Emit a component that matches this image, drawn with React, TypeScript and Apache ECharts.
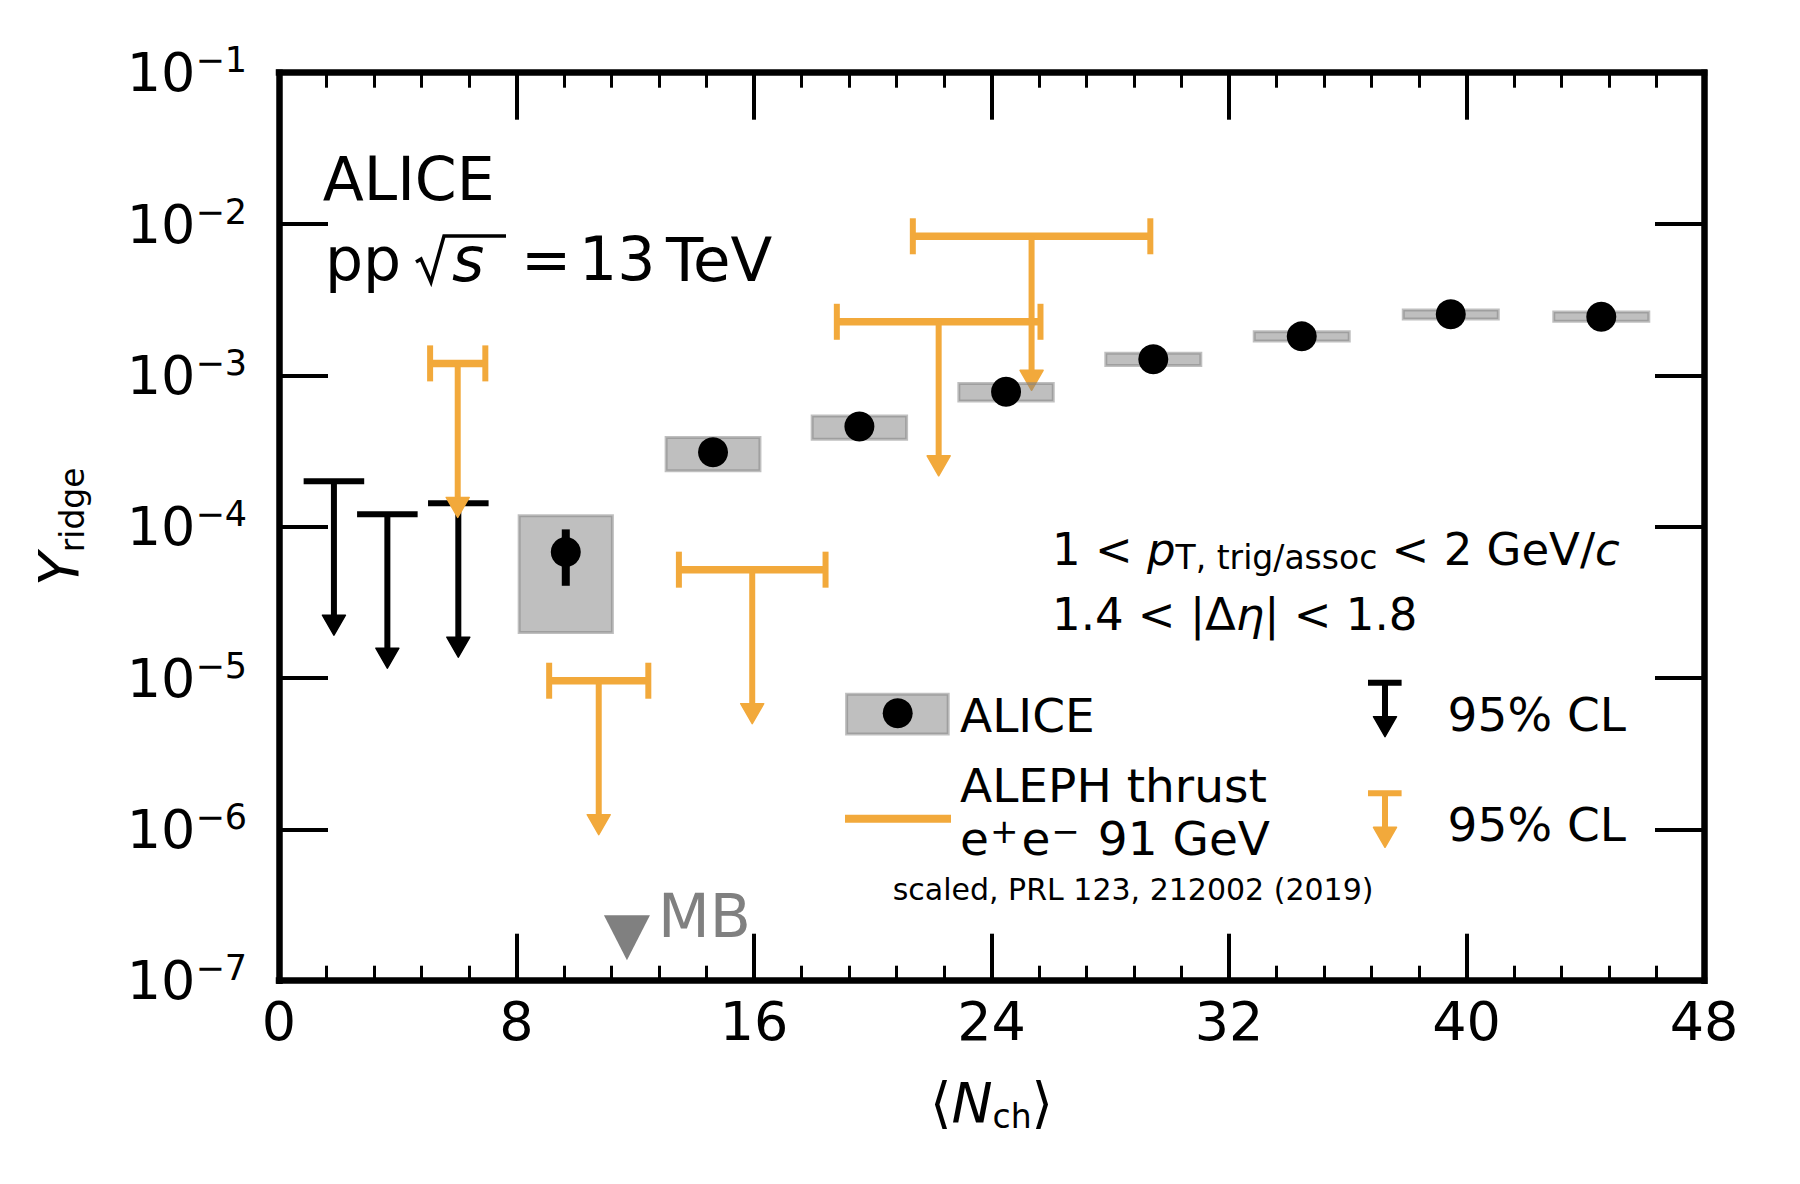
import React, { useEffect, useRef } from 'react';
import * as echarts from 'echarts';

const FONT = 'DejaVu Sans';
const ORANGE = '#F2A93B';
const GRAY = '#808080';
const BOX_FILL = 'rgba(128,128,128,0.5)';

// axis ranges
const X_MIN = 0;
const X_MAX = 48;
const X_STEP = 8;
const Y_MIN = 1e-7;
const Y_MAX = 1e-1;

// ALICE measured points (pp 13 TeV)
const aliceNch = [9.66, 14.62, 19.55, 24.49, 29.45, 34.45, 39.47, 44.54];
const aliceY = [6.8e-5, 3.1e-4, 4.6e-4, 7.8e-4, 1.28e-3, 1.81e-3, 2.53e-3, 2.44e-3];
const aliceStatLow = [4.07e-5, 2.95e-4, 4.45e-4, 7.6e-4, 1.25e-3, 1.78e-3, 2.49e-3, 2.4e-3];
const aliceStatHigh = [9.6e-5, 3.25e-4, 4.75e-4, 8.0e-4, 1.31e-3, 1.84e-3, 2.57e-3, 2.48e-3];
const aliceSysLow = [2.0e-5, 2.34e-4, 3.79e-4, 6.76e-4, 1.16e-3, 1.69e-3, 2.36e-3, 2.28e-3];
const aliceSysHigh = [1.18e-4, 3.89e-4, 5.38e-4, 8.85e-4, 1.4e-3, 1.94e-3, 2.7e-3, 2.62e-3];
const aliceNchHalfWidth = [1.57, 1.58, 1.59, 1.59, 1.6, 1.6, 1.6, 1.6];

// ALICE 95% CL upper limits
const aliceUlNch = [1.85, 3.65, 6.04];
const aliceUlY = [2.0e-4, 1.21e-4, 1.43e-4];
const aliceUlHalfWidth = [1.02, 1.02, 1.02];

// ALEPH thrust e+e- 91 GeV, 95% CL upper limits (scaled)
const alephNch = [6.02, 10.77, 15.94, 22.22, 25.35];
const alephUlY = [1.2e-3, 9.6e-6, 5.2e-5, 2.26e-3, 8.3e-3];
const alephHalfWidth = [0.93, 1.67, 2.47, 3.43, 4.0];

// minimum-bias <Nch> marker
const mbNch = [11.72];
const mbY = [1.92e-7];

const ARROW_LEN = 154;
const HEAD_W = 23;
const HEAD_H = 20;

function arrowParts(cx: number, cy: number, tip: number, color: string, capL: number, capR: number, hLineW: number, endCaps: boolean) {
  const children: any[] = [
    { type: 'line', shape: { x1: capL, y1: cy, x2: capR, y2: cy }, style: { stroke: color, lineWidth: hLineW } },
    { type: 'line', shape: { x1: cx, y1: cy, x2: cx, y2: tip - HEAD_H + 2 }, style: { stroke: color, lineWidth: 6 } },
    {
      type: 'polygon',
      shape: { points: [[cx - HEAD_W / 2, tip - HEAD_H], [cx + HEAD_W / 2, tip - HEAD_H], [cx, tip]] },
      style: { fill: color, stroke: color, lineWidth: 1.5, lineJoin: 'round' },
    },
  ];
  if (endCaps) {
    children.push({ type: 'line', shape: { x1: capL, y1: cy - 18, x2: capL, y2: cy + 18 }, style: { stroke: color, lineWidth: 6 } });
    children.push({ type: 'line', shape: { x1: capR, y1: cy - 18, x2: capR, y2: cy + 18 }, style: { stroke: color, lineWidth: 6 } });
  }
  return children;
}

function makeUpperLimitRenderer(color: string, hLineW: number, endCaps: boolean) {
  return (params: any, api: any) => {
    const x = api.value(0);
    const y = api.value(1);
    const hw = api.value(2);
    const c = api.coord([x, y]);
    const l = api.coord([x - hw, y]);
    const r = api.coord([x + hw, y]);
    return { type: 'group', children: arrowParts(c[0], c[1], c[1] + ARROW_LEN, color, l[0], r[0], hLineW, endCaps) };
  };
}

function txt(x: number, y: number, text: string, fontSize: number, extra: any = {}) {
  return {
    type: 'text',
    x,
    y,
    z: 100,
    style: {
      text,
      fontSize,
      lineHeight: fontSize,
      fontFamily: FONT,
      fill: '#000',
      align: 'left',
      verticalAlign: 'middle',
      ...extra,
    },
  };
}

function tok(fontSize: number, lineHeight: number, extra: any = {}) {
  return { fontSize, lineHeight, fontFamily: FONT, fill: '#000', color: '#000', ...extra };
}

export default function App() {
  const ref = useRef<HTMLDivElement>(null);

  useEffect(() => {
    if (!ref.current) return;
    const chart = echarts.init(ref.current, null, { renderer: 'svg', width: 1800, height: 1184 });

    const axisLineStyle = { color: '#000', width: 6.5, cap: 'square' };
    const xCommon: any = {
      type: 'value',
      min: X_MIN,
      max: X_MAX,
      interval: X_STEP,
      axisLine: { show: true, onZero: false, lineStyle: axisLineStyle },
      axisTick: { show: true, inside: true, length: 47, lineStyle: { color: '#000', width: 4 } },
      minorTick: { show: true, splitNumber: 5, length: 15, lineStyle: { color: '#000', width: 3 } },
      splitLine: { show: false },
      minorSplitLine: { show: false },
    };
    const yCommon: any = {
      type: 'log',
      logBase: 10,
      min: Y_MIN,
      max: Y_MAX,
      splitNumber: 6,
      axisLine: { show: true, onZero: false, lineStyle: axisLineStyle },
      axisTick: { show: true, inside: true, length: 49, lineStyle: { color: '#000', width: 4 } },
      minorTick: { show: false },
      splitLine: { show: false },
      minorSplitLine: { show: false },
    };

    const option: any = {
      animation: false,
      backgroundColor: '#fff',
      grid: { left: 279, top: 72.7, right: 96, bottom: 203.3, containLabel: false },
      xAxis: [
        {
          ...xCommon,
          position: 'bottom',
          axisLabel: { show: true, fontSize: 54, fontFamily: FONT, color: '#000', margin: 14 },
          name: '{a|⟨}{n|N}{s|ch}{a|⟩}',
          nameLocation: 'middle',
          nameGap: 92,
          nameTextStyle: {
            rich: {
              a: tok(55, 60),
              n: tok(55, 60, { fontStyle: 'italic' }),
              s: tok(33, 30, { verticalAlign: 'bottom' }),
            },
          },
        },
        { ...xCommon, position: 'top', axisLabel: { show: false } },
      ],
      yAxis: [
        {
          ...yCommon,
          position: 'left',
          axisLabel: {
            show: true,
            margin: 32,
            formatter: (v: number) => {
              const e = Math.round(Math.log10(v));
              return `{b|10}{s|${e < 0 ? '−' : ''}${Math.abs(e)}}`;
            },
            rich: {
              b: tok(54, 60),
              s: tok(35, 30, { verticalAlign: 'top' }),
            },
          },
          name: '{n|Y}{s|ridge}',
          nameLocation: 'middle',
          nameRotate: 90,
          nameGap: 190,
          nameTextStyle: {
            rich: {
              n: tok(55, 60, { fontStyle: 'italic' }),
              s: tok(33, 30, { verticalAlign: 'bottom' }),
            },
          },
        },
        { ...yCommon, position: 'right', axisLabel: { show: false } },
      ],
      series: [
        {
          name: 'ALICE UL',
          type: 'custom',
          xAxisIndex: 0,
          yAxisIndex: 0,
          z: 2,
          data: aliceUlNch.map((x, i) => [x, aliceUlY[i], aliceUlHalfWidth[i]]),
          renderItem: makeUpperLimitRenderer('#000', 6, false),
        },
        {
          name: 'ALEPH UL',
          type: 'custom',
          xAxisIndex: 0,
          yAxisIndex: 0,
          z: 3,
          data: alephNch.map((x, i) => [x, alephUlY[i], alephHalfWidth[i]]),
          renderItem: makeUpperLimitRenderer(ORANGE, 7.5, true),
        },
        {
          name: 'ALICE sys',
          type: 'custom',
          xAxisIndex: 0,
          yAxisIndex: 0,
          z: 4,
          data: aliceNch.map((x, i) => [x, aliceSysLow[i], aliceSysHigh[i], aliceNchHalfWidth[i]]),
          renderItem: (params: any, api: any) => {
            const x = api.value(0);
            const lo = api.value(1);
            const hi = api.value(2);
            const hw = api.value(3);
            const p1 = api.coord([x - hw, hi]);
            const p2 = api.coord([x + hw, lo]);
            return {
              type: 'rect',
              shape: { x: p1[0], y: p1[1], width: p2[0] - p1[0], height: p2[1] - p1[1] },
              style: { fill: BOX_FILL, stroke: BOX_FILL, lineWidth: 3 },
            };
          },
        },
        {
          name: 'ALICE stat',
          type: 'custom',
          xAxisIndex: 0,
          yAxisIndex: 0,
          z: 5,
          data: aliceNch.map((x, i) => [x, aliceStatLow[i], aliceStatHigh[i]]),
          renderItem: (params: any, api: any) => {
            const x = api.value(0);
            const a = api.coord([x, api.value(1)]);
            const b = api.coord([x, api.value(2)]);
            return { type: 'line', shape: { x1: a[0], y1: a[1], x2: b[0], y2: b[1] }, style: { stroke: '#000', lineWidth: 8 } };
          },
        },
        {
          name: 'ALICE',
          type: 'scatter',
          xAxisIndex: 0,
          yAxisIndex: 0,
          z: 6,
          symbol: 'circle',
          symbolSize: 30,
          itemStyle: { color: '#000', opacity: 1 },
          data: aliceNch.map((x, i) => [x, aliceY[i]]),
        },
        {
          name: 'MB',
          type: 'scatter',
          xAxisIndex: 0,
          yAxisIndex: 0,
          z: 6,
          symbol: 'triangle',
          symbolRotate: 180,
          symbolSize: [46, 45],
          itemStyle: { color: GRAY, opacity: 1 },
          label: {
            show: true,
            position: 'right',
            distance: 8,
            offset: [0, -22],
            formatter: 'MB',
            fontSize: 60,
            fontFamily: FONT,
            color: GRAY,
          },
          data: mbNch.map((x, i) => [x, mbY[i]]),
        },
      ],
      graphic: [
        // top-left labels
        txt(322.7, 179.2, 'ALICE', 60),
        txt(325, 259.2, 'pp', 60),
        {
          type: 'polyline',
          z: 100,
          shape: { points: [[416, 262], [421, 259], [431, 282], [444, 236], [506, 236]] },
          style: { stroke: '#000', lineWidth: 3.5, fill: null, lineJoin: 'miter' },
        },
        txt(452, 259.2, 's', 62, { fontStyle: 'italic' }),
        txt(521, 259.2, '=', 60),
        txt(579, 259.2, '13', 60),
        txt(666, 259.2, 'TeV', 61),
        // kinematic selection
        txt(1052, 549.1, '{b|1 < }{i|p}{s|T, trig/assoc}{b| < 2 GeV/}{i|c}', 45, {
          rich: {
            b: tok(45, 50),
            i: tok(45, 50, { fontStyle: 'italic' }),
            s: tok(33, 26, { verticalAlign: 'bottom' }),
          },
        }),
        txt(1052, 614.1, '{b|1.4 < |Δ}{i|η}{b|| < 1.8}', 45, {
          rich: {
            b: tok(45, 50),
            i: tok(45, 50, { fontStyle: 'italic' }),
          },
        }),
        // legend: ALICE
        {
          type: 'rect',
          z: 100,
          shape: { x: 846.6, y: 694.3, width: 101.6, height: 39.7 },
          style: { fill: BOX_FILL, stroke: BOX_FILL, lineWidth: 3 },
        },
        { type: 'circle', z: 101, shape: { cx: 897.7, cy: 713.3, r: 15 }, style: { fill: '#000' } },
        txt(960, 715.4, 'ALICE', 47),
        // legend: ALEPH
        { type: 'line', z: 100, shape: { x1: 845, y1: 818.7, x2: 951, y2: 818.7 }, style: { stroke: ORANGE, lineWidth: 8 } },
        txt(960, 785.4, 'ALEPH thrust', 47),
        txt(960, 838.7, '{b|e}{s|+}{b|e}{s|−}{b| 91 GeV}', 47, {
          rich: {
            b: tok(47, 50),
            s: tok(34, 22, { verticalAlign: 'top', padding: [0, 3, 0, 1] }),
          },
        }),
        txt(892.7, 889.3, 'scaled, PRL 123, 212002 (2019)', 30),
        // legend: 95% CL symbols
        { type: 'group', z: 100, children: arrowParts(1385, 682.7, 736.7, '#000', 1368, 1401.6, 6, false) },
        txt(1447.6, 714.4, '95% CL', 47),
        { type: 'group', z: 100, children: arrowParts(1385, 793.3, 847.3, ORANGE, 1368, 1401.6, 6, false) },
        txt(1447.6, 824.4, '95% CL', 47),
      ],
    };

    chart.setOption(option);
    return () => {
      chart.dispose();
    };
  }, []);

  return (
    <div
      ref={ref}
      style={{ position: 'fixed', left: 0, top: 0, width: 1800, height: 1184, background: '#fff' }}
    />
  );
}
